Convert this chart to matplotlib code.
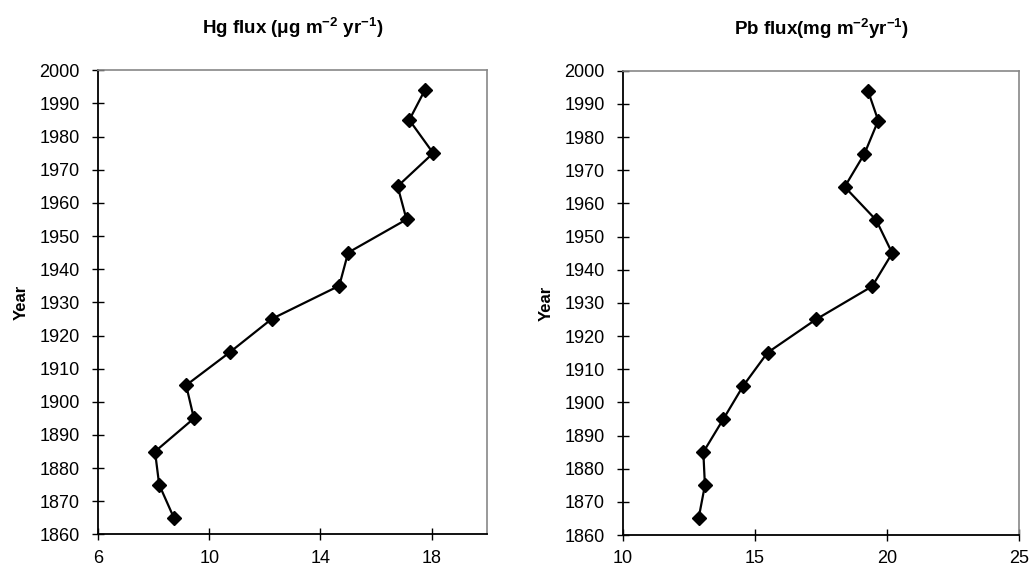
import matplotlib.pyplot as plt

plt.rcParams['font.family'] = ['Liberation Sans', 'DejaVu Sans']
plt.rcParams['mathtext.default'] = 'regular'

# --- data ---
years = [1865, 1875, 1885, 1895, 1905, 1915, 1925, 1935, 1945, 1955, 1965, 1975, 1985, 1994]
hg_flux = [8.73, 8.2, 8.05, 9.45, 9.17, 10.75, 12.25, 14.68, 15.0, 17.1, 16.78, 18.06, 17.2, 17.76]
pb_flux = [12.86, 13.1, 13.04, 13.8, 14.55, 15.47, 17.3, 19.43, 20.19, 19.58, 18.39, 19.14, 19.66, 19.27]

hg_ticks = [6, 10, 14, 18]
pb_ticks = [10, 15, 20, 25]
year_ticks = list(range(1860, 2001, 10))

fig = plt.figure(figsize=(10.32, 5.71), dpi=100)
ax1 = fig.add_axes([0.095, 0.064, 0.377, 0.813])
ax2 = fig.add_axes([0.6037, 0.063, 0.384, 0.813])


def style(ax, xs, xticks, xlim, title):
    ax.plot(xs, years, color='black', lw=1.6, marker='D', markersize=7.5)
    ax.set_xlim(*xlim)
    ax.set_ylim(1860, 2000)
    ax.set_xticks(xticks)
    ax.set_yticks(year_ticks)
    ax.tick_params(direction='inout', length=8, width=1, labelsize=13)
    ax.tick_params(axis='y', pad=9)
    ax.tick_params(axis='x', pad=7)
    ax.set_ylabel('Year', fontsize=12, fontweight='bold', labelpad=8)
    ax.set_title(title, fontsize=13.5, fontweight='bold', pad=26)
    for s in ('top', 'right'):
        ax.spines[s].set_color('#888888')
        ax.spines[s].set_linewidth(1.2)
    for s in ('left', 'bottom'):
        ax.spines[s].set_linewidth(1.3)


style(ax1, hg_flux, hg_ticks, (6, 20), r'Hg flux ($\mu$g m$^{-2}$ yr$^{-1}$)')
style(ax2, pb_flux, pb_ticks, (10, 25), r'Pb flux(mg m$^{-2}$yr$^{-1}$)')

fig.savefig('out.png', dpi=100)
